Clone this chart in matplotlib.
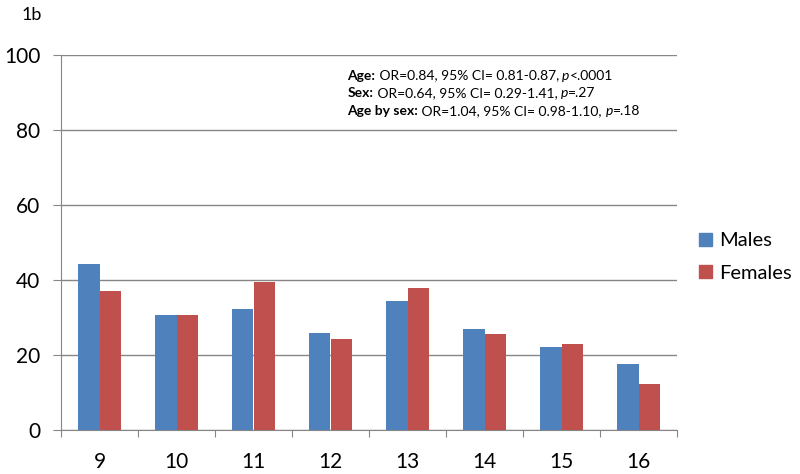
import matplotlib.pyplot as plt
import numpy as np
from matplotlib.patches import Patch
from matplotlib.offsetbox import TextArea, HPacker, VPacker, AnchoredOffsetbox

plt.rcParams['font.family'] = ['Lato', 'DejaVu Sans']

ages = ['9', '10', '11', '12', '13', '14', '15', '16']
males = [44.4, 30.8, 32.2, 25.9, 34.5, 26.9, 22.1, 17.6]
females = [37.1, 30.8, 39.4, 24.3, 37.9, 25.5, 22.9, 12.3]

stats = [
    ('Age:', ' OR=0.84, 95% CI= 0.81-0.87, ', 'p', '<.0001'),
    ('Sex:', ' OR=0.64, 95% CI= 0.29-1.41, ', 'p', '=.27'),
    ('Age by sex:', ' OR=1.04, 95% CI= 0.98-1.10, ', 'p', '=.18'),
]

blue = '#4F81BD'
red = '#C0504D'
grey = '#868686'

fig = plt.figure(figsize=(8, 4.74), dpi=100)
ax = fig.add_axes([61 / 800, 44 / 474, 616 / 800, 375 / 474])

x = np.arange(len(ages))
w = 0.285
ax.bar(x - w / 2, males, w, color=blue, label='Males', zorder=3)
ax.bar(x + w / 2, females, w, color=red, label='Females', zorder=3)

ax.set_xlim(-0.5, len(ages) - 0.5)
ax.set_ylim(0, 100)
ax.set_yticks(range(0, 101, 20))
ax.yaxis.grid(True, color=grey, linewidth=1, zorder=0)

# category boundary ticks, labels at the centres
ax.set_xticks(np.arange(len(ages) + 1) - 0.5)
ax.set_xticklabels([])
ax.set_xticks(x, minor=True)
ax.set_xticklabels(ages, minor=True)
ax.tick_params(axis='x', which='major', length=5, color=grey, direction='out')
ax.tick_params(axis='x', which='minor', length=0, pad=16, labelsize=15)
ax.tick_params(axis='y', length=6, color=grey, pad=9, labelsize=15)

for s in ['top', 'right']:
    ax.spines[s].set_visible(False)
for s in ['left', 'bottom']:
    ax.spines[s].set_color(grey)

fig.text(22 / 800, 1 - 15 / 474, '1b', fontsize=13, va='center', ha='left')

# stats box
fs = 10
rows = []
for bold, txt, it, tail in stats:
    rows.append(HPacker(children=[
        TextArea(bold, textprops=dict(fontsize=fs, fontweight='bold')),
        TextArea(txt, textprops=dict(fontsize=fs)),
        TextArea(it, textprops=dict(fontsize=fs, style='italic')),
        TextArea(tail, textprops=dict(fontsize=fs)),
    ], pad=0, sep=0, align='baseline'))
box = VPacker(children=rows, pad=0, sep=4, align='left')
ab = AnchoredOffsetbox(loc='upper left', child=box, frameon=False,
                       bbox_to_anchor=(342 / 800, 1 - 64 / 474),
                       bbox_transform=fig.transFigure, borderpad=0)
fig.add_artist(ab)

handles = [Patch(color=blue), Patch(color=red)]
fig.legend(handles, ['Males', 'Females'], loc='center left',
           bbox_to_anchor=(699 / 800, 1 - 257 / 474), frameon=False,
           borderpad=0, borderaxespad=0,
           fontsize=14.5, handlelength=0.65, handleheight=0.65,
           handletextpad=0.35, labelspacing=0.75)

fig.savefig('out.png', dpi=100)
